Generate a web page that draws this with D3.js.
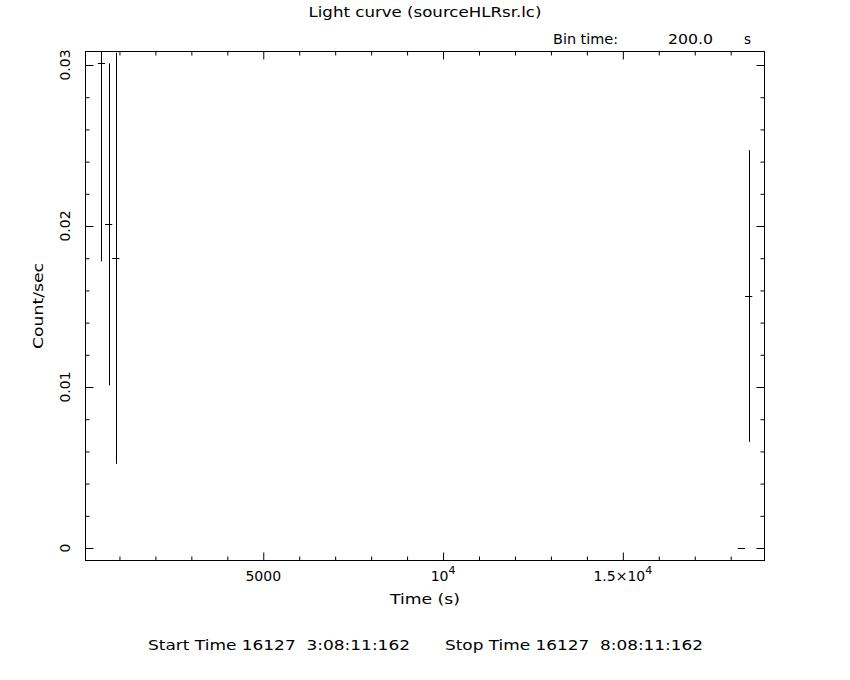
<!DOCTYPE html>
<html>
<head>
<meta charset="utf-8">
<script src="https://cdn.jsdelivr.net/npm/d3@7"></script>
<style>
  html, body { margin: 0; padding: 0; background: #fff; }
  svg { display: block; }
  text { font-family: "DejaVu Sans", "Liberation Sans", sans-serif; fill: #000; white-space: pre; }
</style>
</head>
<body>
<svg id="chart" width="850" height="680"></svg>
<script>
// ---- data ----
const times  = [500, 700, 900, 18300, 18500];          // bin centres (s)
const rates  = [0.0301, 0.0201, 0.0180, 0.0, 0.01565];  // Count/sec
const errors = [0.0123, 0.0100, 0.01277, 0.0, 0.00906]; // 1-sigma errors
const binTime = 200.0;

const xDomain = [56, 18940];
const yDomain = [-0.000776, 0.030839];

const xMajorTicks = [5000, 10000, 15000];
const xMajorLabels = [["5000", ""], ["10", "4"], ["1.5\u00D710", "4"]];
const yMajorTicks = [0, 0.01, 0.02, 0.03];
const yMajorLabels = ["0", "0.01", "0.02", "0.03"];

const titleText = "Light curve (sourceHLRsr.lc)";
const xLabel = "Time (s)";
const yLabel = "Count/sec";
const startText = "Start Time 16127  3:08:11:162";
const stopText = "Stop Time 16127  8:08:11:162";

// ---- layout ----
const L = 85.5, R = 764.5, T = 51.5, B = 560.5;
const svg = d3.select("#chart");

const x = d3.scaleLinear().domain(xDomain).range([L, R]);
const y = d3.scaleLinear().domain(yDomain).range([B, T]);

const xMinor = d3.range(1000, xDomain[1], 1000).filter(v => v > xDomain[0] && !xMajorTicks.includes(v));
const yMinor = d3.range(0, 0.0309, 0.002).map(v => +v.toFixed(3)).filter(v => !yMajorTicks.some(m => Math.abs(m - v) < 1e-9));

function styleAxis(g) {
  g.select(".domain").remove();
  g.selectAll("line").attr("stroke", "#000").attr("stroke-width", 1);
  g.selectAll("text").remove();
}

// bottom
svg.append("g").attr("transform", `translate(0,${B})`)
  .call(d3.axisBottom(x).tickValues(xMajorTicks).tickSize(-8).tickFormat("")).call(styleAxis);
svg.append("g").attr("transform", `translate(0,${B})`)
  .call(d3.axisBottom(x).tickValues(xMinor).tickSize(-4).tickFormat("")).call(styleAxis);
// top
svg.append("g").attr("transform", `translate(0,${T})`)
  .call(d3.axisTop(x).tickValues(xMajorTicks).tickSize(-8).tickFormat("")).call(styleAxis);
svg.append("g").attr("transform", `translate(0,${T})`)
  .call(d3.axisTop(x).tickValues(xMinor).tickSize(-4).tickFormat("")).call(styleAxis);
// left
svg.append("g").attr("transform", `translate(${L},0)`)
  .call(d3.axisLeft(y).tickValues(yMajorTicks).tickSize(-8).tickFormat("")).call(styleAxis);
svg.append("g").attr("transform", `translate(${L},0)`)
  .call(d3.axisLeft(y).tickValues(yMinor).tickSize(-4).tickFormat("")).call(styleAxis);
// right
svg.append("g").attr("transform", `translate(${R},0)`)
  .call(d3.axisRight(y).tickValues(yMajorTicks).tickSize(-8).tickFormat("")).call(styleAxis);
svg.append("g").attr("transform", `translate(${R},0)`)
  .call(d3.axisRight(y).tickValues(yMinor).tickSize(-4).tickFormat("")).call(styleAxis);

// frame
svg.append("rect").attr("x", L).attr("y", T).attr("width", R - L).attr("height", B - T)
  .attr("fill", "none").attr("stroke", "#000").attr("stroke-width", 1);

// clip
svg.append("clipPath").attr("id", "clip").append("rect")
  .attr("x", L).attr("y", T).attr("width", R - L).attr("height", B - T);

const data = times.map((t, i) => ({ t, v: rates[i], e: errors[i] }));
const marks = svg.append("g").attr("clip-path", "url(#clip)");
marks.selectAll("line.v").data(data.filter(d => d.e > 0)).join("line").attr("class", "v")
  .attr("x1", d => Math.round(x(d.t)) + 0.5).attr("x2", d => Math.round(x(d.t)) + 0.5)
  .attr("y1", d => y(d.v + d.e)).attr("y2", d => y(d.v - d.e))
  .attr("stroke", "#000").attr("stroke-width", 1);
marks.selectAll("line.h").data(data).join("line").attr("class", "h")
  .attr("x1", d => x(d.t - binTime / 2)).attr("x2", d => x(d.t + binTime / 2))
  .attr("y1", d => Math.round(y(d.v)) + 0.5).attr("y2", d => Math.round(y(d.v)) + 0.5)
  .attr("stroke", "#000").attr("stroke-width", 1);

// x tick labels
xMajorTicks.forEach((v, i) => {
  const t = svg.append("text").attr("x", x(v)).attr("y", 581).attr("text-anchor", "middle")
    .style("font-size", "14px");
  t.append("tspan").text(xMajorLabels[i][0]);
  if (xMajorLabels[i][1]) {
    t.append("tspan").attr("dy", -7).style("font-size", "11px").text(xMajorLabels[i][1]);
  }
});

// y tick labels (rotated)
yMajorTicks.forEach((v, i) => {
  svg.append("text").attr("transform", `translate(70,${y(v)}) rotate(-90)`)
    .attr("text-anchor", "middle").style("font-size", "14px").text(yMajorLabels[i]);
});

function label(xp, yp, str, width, anchor, rot) {
  const t = svg.append("text")
    .attr("transform", rot ? `translate(${xp},${yp}) rotate(-90)` : `translate(${xp},${yp})`)
    .attr("text-anchor", anchor || "start").style("font-size", "14px").text(str);
  if (width) t.attr("textLength", width).attr("lengthAdjust", "spacingAndGlyphs");
  return t;
}

// titles
label(425, 17, titleText, 233, "middle");
label(553, 44, "Bin time:", 65);
label(668, 44, binTime.toFixed(1), 45);
label(744, 44, "s", 7);
label(425, 604, xLabel, 70, "middle");
label(43, (T + B) / 2, yLabel, 86, "middle", true);
label(148, 650, startText, 262);
label(445, 650, stopText, 258);
</script>
</body>
</html>
